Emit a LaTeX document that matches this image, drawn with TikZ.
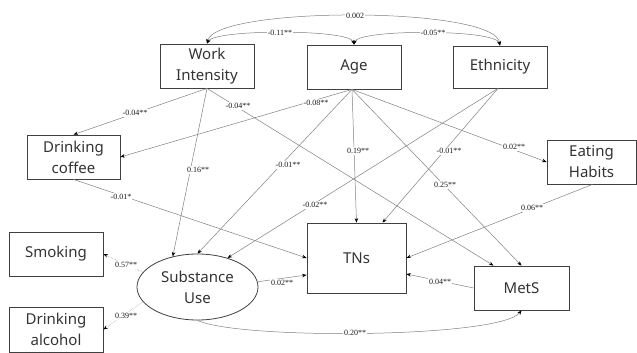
\documentclass[tikz,border=0pt]{standalone}
\usepackage{fontspec}
\setmainfont{Liberation Serif}
\newfontfamily\boxfont{Noto Sans}
\usetikzlibrary{arrows.meta,calc,shapes.geometric}
\begin{document}
\begin{tikzpicture}[x=1pt,y=-1pt,
  box/.style={draw=black!75, line width=0.8pt, align=center, inner sep=0pt,
    font=\boxfont\fontsize{15}{21}\selectfont, text=black!80},
  conn/.style={draw=black!50, line width=0.5pt, -{Stealth[length=4.5pt,width=3.5pt,color=black]}},
  cov/.style={draw=black!50, line width=0.5pt, {Stealth[length=4.5pt,width=3.5pt,color=black]}-{Stealth[length=4.5pt,width=3.5pt,color=black]}},
  load/.style={conn, draw=black!40, densely dotted},
  lab/.style={fill=white, inner sep=0.8pt, font=\fontsize{8}{9}\selectfont, text=black!90}]
\useasboundingbox (0,0) rectangle (637,353);

\node[box, minimum width=94pt, minimum height=44pt] (work) at (207,66) {Work\\Intensity};
\node[box, minimum width=94pt, minimum height=44pt] (age) at (354,67) {Age};
\node[box, minimum width=94pt, minimum height=42pt] (eth) at (500,67) {Ethnicity};
\node[box, minimum width=93pt, minimum height=44pt] (coffee) at (73.5,157) {Drinking\\coffee};
\node[box, minimum width=89pt, minimum height=44pt] (eat) at (591.5,162) {Eating\\Habits};
\node[box, minimum width=94pt, minimum height=44pt] (smoke) at (56,254) {Smoking};
\node[box, minimum width=94pt, minimum height=45pt] (alcohol) at (56,329.5) {Drinking\\alcohol};
\node[box, ellipse, minimum width=121pt, minimum height=66pt] (su) at (197.5,287) {Substance\\Use};
\node[box, minimum width=99pt, minimum height=70pt] (tns) at (356.5,258) {TNs};
\node[box, minimum width=95pt, minimum height=44pt] (mets) at (521.5,288) {MetS};

% covariances
\draw[cov] (work.north) .. controls (215,6) and (495,6) .. (eth.north);
\draw[cov] (work.north) .. controls (215,29) and (350,29) .. (age.north);
\draw[cov] (eth.north) .. controls (495,29) and (358,29) .. (age.north);

% paths
\draw[conn] (work.south) -- (coffee.north);
\draw[conn] (work.south) -- (su.129);
\draw[conn] (work.south) -- ($(mets.north)+(-28,0)$);
\draw[conn] ($(age.south)+(-2,0)$) -- (coffee.east);
\draw[conn] ($(age.south)+(-2,0)$) -- (su.north);
\draw[conn] ($(age.south)+(-2,0)$) -- (tns.north);
\draw[conn] ($(age.south)+(-2,0)$) -- (eat.west);
\draw[conn] ($(age.south)+(-2,0)$) -- (mets.north);
\draw[conn] ($(eth.south)+(-2,0)$) -- (su.44);
\draw[conn] ($(eth.south)+(-2,0)$) -- ($(tns.north)+(26,0)$);
\draw[conn] (coffee.south) -- (tns.west);
\draw[conn] ($(eat.south)+(1,0)$) -- (tns.east);
\draw[conn] (mets.west) -- ($(tns.east)+(0,16)$);
\draw[conn] (su.5) -- ($(tns.west)+(0,17)$);
\draw[load] (su.165) -- (smoke.east);
\draw[load] (su.195) -- (alcohol.east);
\draw[conn] (su.south) .. controls (240,340) and (500,338) .. (mets.south);

% labels
\node[lab] (l1) at (355,16) {0.002};
\node[lab] (l2) at (280,33) {-0.11**};
\node[lab] (l3) at (433,33) {-0.05**};
\node[lab] (l4) at (135,113) {-0.04**};
\node[lab] (l5) at (238,106) {-0.04**};
\node[lab] (l6) at (316,103) {-0.08**};
\node[lab] (l7) at (198,170) {0.16**};
\node[lab] (l8) at (288,165) {-0.01**};
\node[lab] (l9) at (121,197) {-0.01*};
\node[lab] (l10) at (315,205) {-0.02**};
\node[lab] (l11) at (358,151) {0.19**};
\node[lab] (l12) at (449,151) {-0.01**};
\node[lab] (l13) at (514,147) {0.02**};
\node[lab] (l14) at (445,185) {0.25**};
\node[lab] (l15) at (532,208) {0.06**};
\node[lab] (l16) at (440,282) {0.04**};
\node[lab] (l17) at (282,283) {0.02**};
\node[lab] (l18) at (126,265) {0.57**};
\node[lab] (l19) at (126,316) {0.39**};
\node[lab] (l20) at (355,333) {0.20**};
\end{tikzpicture}
\end{document}
